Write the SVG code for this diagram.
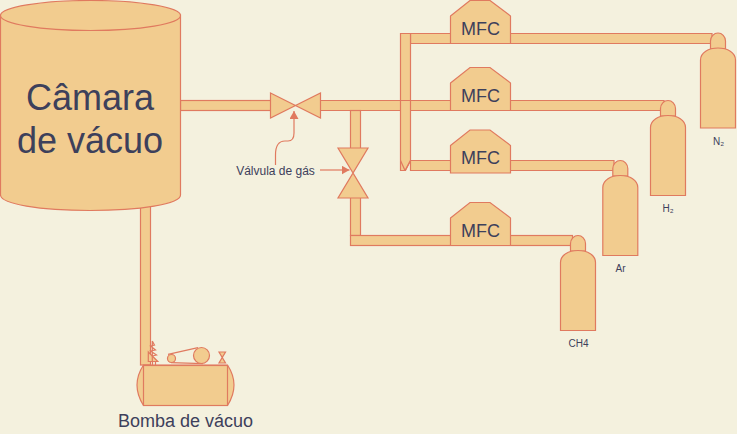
<svg xmlns="http://www.w3.org/2000/svg" width="737" height="434" viewBox="0 0 737 434">
<style>
.s{fill:#F2CC8F;stroke:#E07A5F;stroke-width:1.2}
.l{fill:none;stroke:#E07A5F;stroke-width:1.2}
text{font-family:"Liberation Sans",Arial,sans-serif;fill:#3D405B;text-anchor:middle}
.m{font-size:18px}
.b{font-size:10px}
</style>
<defs>
<marker id="arr" markerWidth="9" markerHeight="10" refX="8" refY="4.500" orient="auto" markerUnits="userSpaceOnUse"><path d="M0 0L8 4.500L0 9Z" fill="#E07A5F"/></marker>
<path id="mfc" class="s" d="M450.500 16L470 0.500H490L510.500 16V43.500H450.500Z"/>
<path id="neck" class="s" d="M0 15.500V8C0 3.500 3.500 0 7.500 0C11.500 0 15 3.500 15 8V15.500Z"/>
<path id="body" class="s" d="M0 80V12C0 4.500 8 0 17.500 0C27 0 35 4.500 35 12V80Z"/>
</defs>
<rect width="737" height="434" fill="#F4F1DE"/>
<g id="connectors">
<rect class="s" x="140.500" y="205" width="10" height="160"/>
<rect class="s" x="180.500" y="100.500" width="92" height="10"/>
<path class="s" d="M320 100.500H664V110.500H320Z"/>
<rect class="s" x="350.500" y="110.500" width="10" height="40"/>
<rect class="s" x="350.500" y="196" width="10" height="39.500"/>
<rect class="s" x="350.500" y="235.500" width="222" height="10"/>
<path class="s" d="M410.500 33.500H712V43.500H410.500Z"/>
<path class="s" d="M410.500 160.500H614V170.500H410.500Z"/>
<path class="s" d="M400.500 33.500H410.500V160.500L405.500 170.500H400.500Z"/>
<path class="l" d="M400.500 160.500L405 170.500H400.500M410.500 160.500L405 170.500M400.500 100.500H410.500"/>
<path class="l" d="M275.500 165V155C275.500 146 279 141 285 141H288C292 141 294 138 294 133V111" marker-end="url(#arr)"/>
<path class="l" d="M320 170H349.500" marker-end="url(#arr)"/>
</g>
<g id="chamber">
<path class="s" d="M0.500 15V195C0.500 204 40 210.500 90 210.500C140 210.500 180.500 204 180.500 195V15Z"/>
<ellipse class="s" cx="90.500" cy="15.500" rx="90" ry="15"/>
<text x="90" y="110" font-size="36">Câmara</text>
<text x="90" y="153" font-size="36">de vácuo</text>
</g>
<g id="valve1">
<path class="s" d="M270.500 93L320.500 118V93L270.500 118Z"/>
</g>
<g id="valve-label">
<text x="275.500" y="175" font-size="12">Válvula de gás</text>
</g>
<g id="valve2">
<path class="s" d="M338 148H368L338 198H368Z"/>
</g>
<g id="mfc1"><use href="#mfc"/><text class="m" x="480.500" y="34.500">MFC</text></g>
<g id="mfc2"><use href="#mfc" y="67"/><text class="m" x="480.500" y="101.500">MFC</text></g>
<g id="mfc3"><use href="#mfc" y="129.500"/><text class="m" x="480.500" y="164">MFC</text></g>
<g id="mfc4"><use href="#mfc" y="202"/><text class="m" x="480.500" y="236.500">MFC</text></g>
<g id="n2">
<use href="#neck" x="710.500" y="33"/>
<use href="#body" x="700.500" y="48"/>
<text class="b" x="718.500" y="145">N₂</text>
</g>
<g id="h2">
<use href="#neck" x="660.500" y="100.500"/>
<use href="#body" x="650.500" y="115.500"/>
<text class="b" x="668" y="212">H₂</text>
</g>
<g id="ar">
<use href="#neck" x="612.800" y="160.500"/>
<use href="#body" x="602.800" y="175.500"/>
<text class="b" x="620.500" y="272">Ar</text>
</g>
<g id="ch4">
<use href="#neck" x="570.500" y="235.500"/>
<use href="#body" x="560.500" y="250.500"/>
<text class="b" x="578.500" y="347">CH4</text>
</g>
<g id="pump">
<path class="s" d="M143.500 365C135 378 135 392 143.500 405.500H227.500C236 392 236 378 227.500 365Z"/>
<rect class="s" x="143.500" y="365.500" width="84" height="40"/>
<path class="l" d="M152.500 361.500V365M155.500 361.500V365"/>
<path class="s" d="M148.300 352V361.500H157.800Z"/>
<path class="l" d="M152.300 341L154.500 345L150.500 346L155.500 350L150.500 351L156.500 355L152.300 356M152.300 341V361"/>
<path class="l" d="M168 354.300L198 347.700M171 362.700L203 363.700"/>
<circle class="s" cx="171.500" cy="358.500" r="4"/>
<circle class="s" cx="201.500" cy="355.500" r="8"/>
<path class="s" d="M219 352H225.500L219 363H225.500Z"/>
<text x="185.500" y="427" font-size="18">Bomba de vácuo</text>
</g>
</svg>
